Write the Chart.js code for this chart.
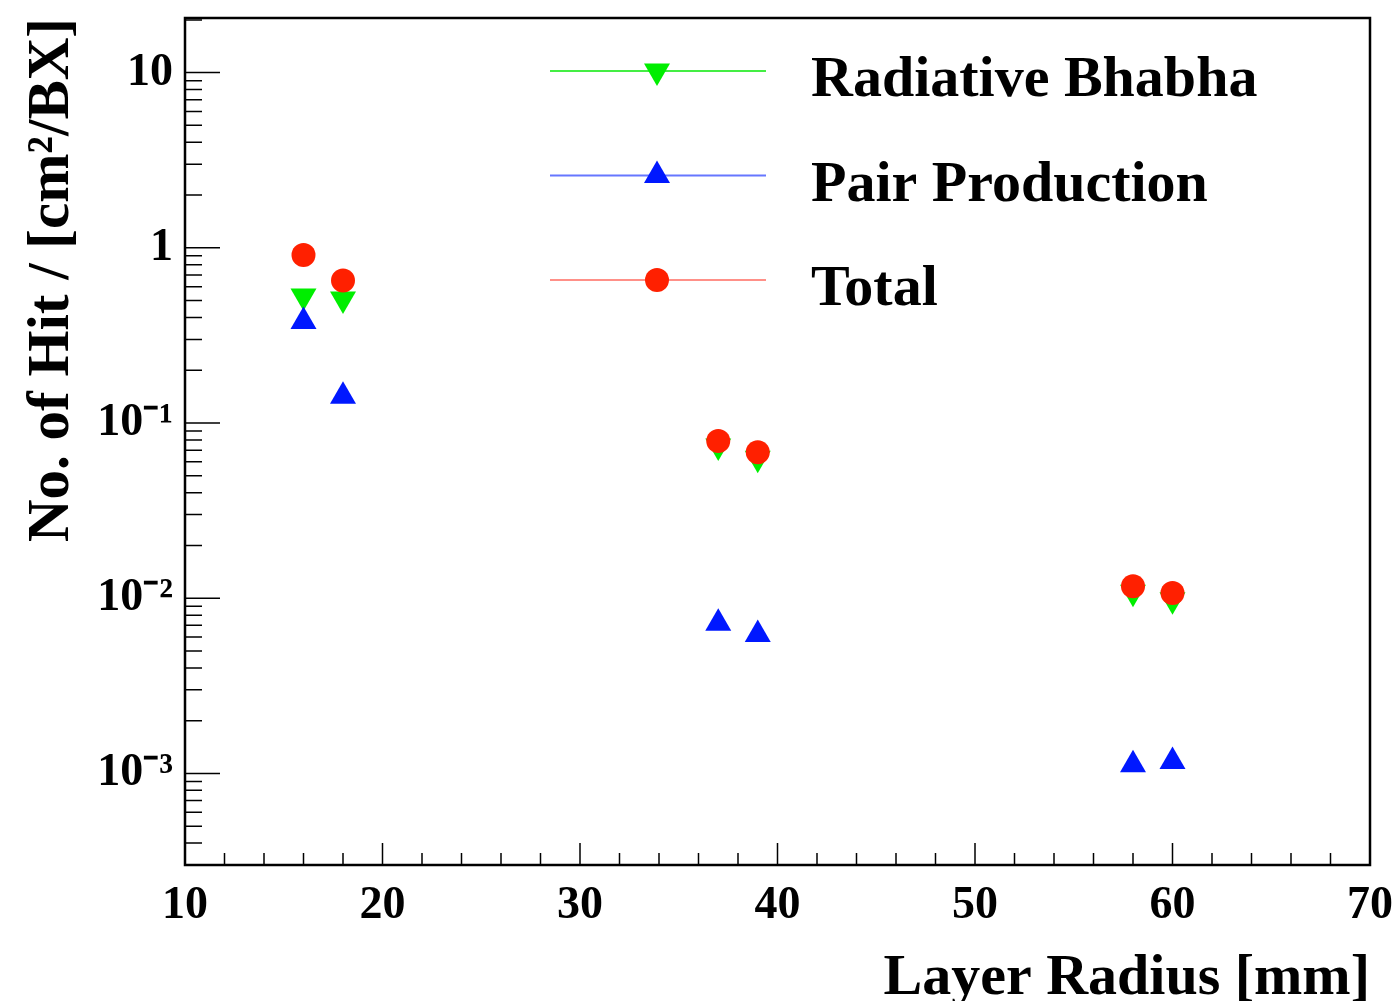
<!DOCTYPE html>
<html>
<head>
<meta charset="utf-8">
<script src="https://cdn.jsdelivr.net/npm/chart.js@4.4.0/dist/chart.umd.min.js"></script>
<style>
  html, body { margin: 0; padding: 0; background: #fff; }
</style>
</head>
<body>
<canvas id="chart" width="1400" height="1001"></canvas>
<script>
// layer radius [mm] and hit densities
const radius = [16, 18, 37, 39, 58, 60];
const radBhabha = [0.53, 0.51, 0.074, 0.063, 0.0108, 0.0098];
const pairProd = [0.38, 0.142, 0.0072, 0.0062, 0.00112, 0.00117];
const total = [0.91, 0.65, 0.079, 0.068, 0.0117, 0.0107];

const yTicks = [0.001, 0.01, 0.1, 1, 10];
const yTickLabels = ['10⁻³', '10⁻²', '10⁻¹', '1', '10'];

const serif = 'Liberation Serif';

const toPoints = (vals) => radius.map((r, i) => ({ x: r, y: vals[i] }));

// ROOT-style frame with inward ticks
const frameTicks = {
    id: 'frameTicks',
    beforeDatasetsDraw(chart) {
        const { ctx, chartArea: a, scales: { x, y } } = chart;
        ctx.save();
        ctx.strokeStyle = '#000';
        ctx.lineWidth = 2.5;
        ctx.strokeRect(a.left, a.top, a.right - a.left, a.bottom - a.top);
        ctx.beginPath();
        for (let v = x.min; v <= x.max; v += 2) {
            const px = x.getPixelForValue(v);
            const len = v % 10 === 0 ? 22 : 12;
            ctx.moveTo(px, a.bottom);
            ctx.lineTo(px, a.bottom - len);
        }
        for (let e = -4; e <= 1; e++) {
            for (let k = 1; k <= 9; k++) {
                const v = k * Math.pow(10, e);
                if (v < y.min || v > y.max) continue;
                const py = y.getPixelForValue(v);
                const len = k === 1 ? 35 : 17;
                ctx.moveTo(a.left, py);
                ctx.lineTo(a.left + len, py);
            }
        }
        ctx.lineWidth = 1.5;
        ctx.stroke();
        ctx.restore();
    }
};

function marker(ctx, style, rot, r, cx, cy) {
    ctx.beginPath();
    if (style === 'circle') {
        ctx.arc(cx, cy, r, 0, Math.PI * 2);
    } else {
        let ang = rot * Math.PI / 180;
        ctx.moveTo(cx + Math.sin(ang) * r, cy - Math.cos(ang) * r);
        ang += 2 * Math.PI / 3;
        ctx.lineTo(cx + Math.sin(ang) * r, cy - Math.cos(ang) * r);
        ang += 2 * Math.PI / 3;
        ctx.lineTo(cx + Math.sin(ang) * r, cy - Math.cos(ang) * r);
        ctx.closePath();
    }
    ctx.fill();
}

const legendBox = {
    id: 'legendBox',
    afterDraw(chart) {
        const ctx = chart.ctx;
        ctx.save();
        chart.data.datasets.forEach((ds, i) => {
            const ly = 71 + i * 104.5;
            ctx.strokeStyle = ds.legendLine;
            ctx.lineWidth = 2;
            ctx.beginPath();
            ctx.moveTo(550, ly);
            ctx.lineTo(766, ly);
            ctx.stroke();
            ctx.fillStyle = ds.backgroundColor;
            marker(ctx, ds.pointStyle, ds.rotation || 0, ds.pointStyle === 'circle' ? 12 : 15, 657, ly);
            ctx.fillStyle = '#000';
            ctx.font = 'bold 58px "' + serif + '"';
            ctx.textBaseline = 'alphabetic';
            ctx.fillText(ds.label, 811, ly + 25);
        });
        ctx.restore();
    }
};

new Chart(document.getElementById('chart'), {
    type: 'scatter',
    data: {
        datasets: [
            {
                label: 'Radiative Bhabha',
                data: toPoints(radBhabha),
                backgroundColor: '#00ee00',
                borderColor: '#00ee00',
                legendLine: '#44ee44',
                pointStyle: 'triangle',
                rotation: 180,
                pointRadius: 15,
                borderWidth: 0,
                order: 2,
            },
            {
                label: 'Pair Production',
                data: toPoints(pairProd),
                backgroundColor: '#0018ff',
                borderColor: '#0018ff',
                legendLine: '#6677ff',
                pointStyle: 'triangle',
                pointRadius: 15,
                borderWidth: 0,
                order: 1,
            },
            {
                label: 'Total',
                data: toPoints(total),
                backgroundColor: '#ff2000',
                borderColor: '#ff2000',
                legendLine: '#ff9088',
                pointStyle: 'circle',
                pointRadius: 12,
                borderWidth: 0,
                order: 0,
            },
        ]
    },
    options: {
        responsive: false,
        animation: false,
        devicePixelRatio: 1,
        layout: { padding: { top: 18, right: 30, left: 0, bottom: 0 } },
        plugins: {
            legend: { display: false },
            tooltip: { enabled: false },
        },
        scales: {
            x: {
                type: 'linear',
                min: 10,
                max: 70,
                grid: { display: false, drawTicks: false },
                border: { display: false },
                ticks: {
                    stepSize: 10,
                    color: '#000',
                    padding: 14,
                    maxRotation: 0,
                    font: { family: serif, size: 46, weight: 'bold' },
                },
                title: {
                    display: true,
                    text: 'Layer Radius [mm]',
                    align: 'end',
                    color: '#000',
                    padding: { top: 0, bottom: 0 },
                    font: { family: serif, size: 58, weight: 'bold', lineHeight: 0.75 },
                },
                afterFit: (scale) => {
                    scale.height = 136;
                    scale.paddingLeft = 0;
                    scale.paddingRight = 0;
                },
            },
            y: {
                type: 'logarithmic',
                min: 3.1e-4,
                max: 20.5,
                grid: { display: false, drawTicks: false },
                border: { display: false },
                afterBuildTicks: (scale) => {
                    scale.ticks = yTicks.map(v => ({ value: v }));
                },
                ticks: {
                    color: '#000',
                    padding: 12,
                    font: { family: serif, size: 46, weight: 'bold' },
                    callback: (v) => {
                        const i = yTicks.findIndex(t => Math.abs(t - v) / t < 1e-6);
                        return i >= 0 ? yTickLabels[i] : '';
                    },
                },
                title: {
                    display: true,
                    text: 'No. of Hit / [cm²/BX]',
                    align: 'end',
                    color: '#000',
                    padding: { top: 23, bottom: 0 },
                    font: { family: serif, size: 59, weight: 'bold', lineHeight: 1 },
                },
                afterFit: (scale) => {
                    scale.width = 185;
                    scale.paddingTop = 0;
                    scale.paddingBottom = 0;
                },
            },
        },
    },
    plugins: [frameTicks, legendBox],
});
</script>
</body>
</html>
